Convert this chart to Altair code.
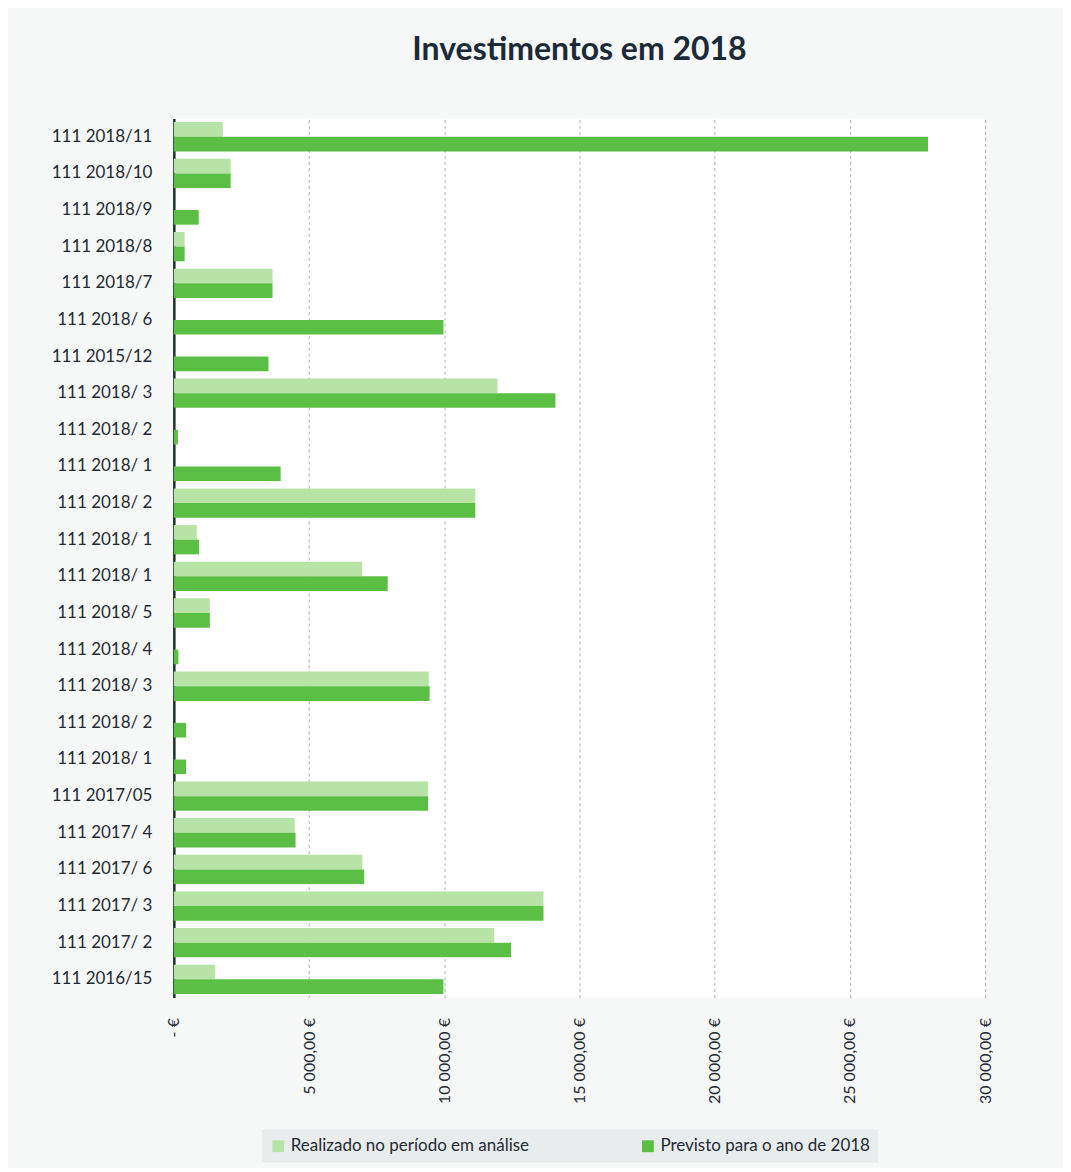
import altair as alt
import pandas as pd

labels = ["111 2018/11", "111 2018/10", "111 2018/9", "111 2018/8", "111 2018/7",
          "111 2018/ 6", "111 2015/12", "111 2018/ 3", "111 2018/ 2", "111 2018/ 1",
          "111 2018/ 2", "111 2018/ 1", "111 2018/ 1", "111 2018/ 5", "111 2018/ 4",
          "111 2018/ 3", "111 2018/ 2", "111 2018/ 1", "111 2017/05", "111 2017/ 4",
          "111 2017/ 6", "111 2017/ 3", "111 2017/ 2", "111 2016/15"]
realizado = [1810, 2100, 0, 400, 3650, 0, 0, 11970, 0, 0,
             11150, 850, 6960, 1330, 0, 9430, 0, 0, 9400, 4470,
             6970, 13670, 11850, 1530]
previsto = [27890, 2100, 920, 400, 3650, 9970, 3500, 14110, 150, 3950,
            11150, 930, 7910, 1330, 170, 9460, 450, 450, 9400, 4500,
            7040, 13670, 12470, 9970]
series = ["Realizado no período em análise", "Previsto para o ano de 2018"]
colors = ["#b7e4a6", "#5cbf45"]

rows = []
keys = []
for i, lab in enumerate(labels):
    key = f"{i:02d}|{lab}"
    keys.append(key)
    rows.append({"key": key, "serie": series[0], "valor": realizado[i]})
    rows.append({"key": key, "serie": series[1], "valor": previsto[i]})
df = pd.DataFrame(rows)

font = "Lato"
xlabel = ("datum.value == 0 ? '-   €' : replace(replace(format(datum.value, ',.2f'), ',', ' '), '.', ',') + ' €'")

chart = alt.Chart(df).mark_bar().encode(
    y=alt.Y("key:N", sort=keys, title=None,
            scale=alt.Scale(paddingInner=0.2, paddingOuter=0.1),
            axis=alt.Axis(labelExpr="split(datum.label, '|')[1]", labelFontSize=17,
                          labelColor="#1f2a33", labelFont=font, ticks=False,
                          labelPadding=22, domainColor="#1b3328", domainWidth=2.5,
                          minExtent=161, maxExtent=161)),
    yOffset=alt.YOffset("serie:N", sort=series),
    x=alt.X("valor:Q", title=None,
            scale=alt.Scale(domain=[0, 30000], nice=False),
            axis=alt.Axis(values=[0, 5000, 10000, 15000, 20000, 25000, 30000],
                          labelExpr=xlabel, labelAngle=270, labelFontSize=16,
                          labelFont=font, labelColor="#1f2a33", labelPadding=20,
                          labelAlign="right", labelBaseline="middle",
                          domain=False, ticks=False, grid=True, gridDash=[3, 3],
                          gridColor="#aab2b6", gridWidth=1)),
    color=alt.Color("serie:N", sort=series,
                    scale=alt.Scale(domain=series, range=colors),
                    legend=alt.Legend(orient="none", legendX=88, legendY=1012,
                                      direction="horizontal", title=None,
                                      symbolType="square", symbolSize=140,
                                      labelFontSize=17, labelFont=font, labelLimit=0,
                                      labelColor="#1f2a33", columnPadding=110,
                                      fillColor="#e9ecec", padding=8,
                                      symbolStrokeWidth=0)),
).properties(
    width=812,
    height=880,
    background="#f6f7f7",
    padding={"left": 5, "top": 25, "right": 70, "bottom": 5},
    title=alt.TitleParams("Investimentos em 2018", fontSize=32, font=font,
                          fontWeight="bold", color="#1c2a38", offset=52, anchor="middle"),
).configure_view(stroke=None, fill="#ffffff")

chart.save("out.html", embed_options={"renderer": "svg", "actions": False})
